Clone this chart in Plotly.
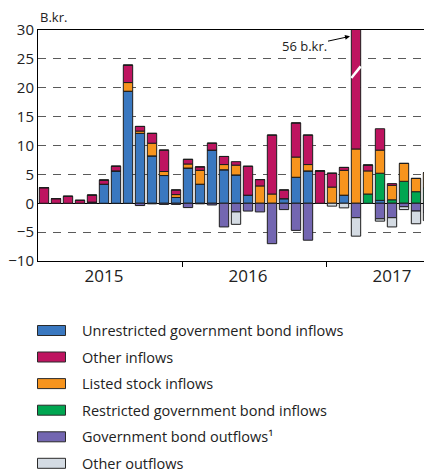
import plotly.graph_objects as go

months = list(range(33))  # Jan 2015 .. Sep 2017
year_labels = ["2015", "2016", "2017"]
year_label_pos = [5, 17, 29]
year_bounds = [11.5, 23.5]

unrestricted = [0, 0, 0, 0, 0.2, 3.3, 5.6, 19.4, 12.1, 8.2, 4.8, 1.0,
                6.1, 3.3, 9.2, 5.8, 4.9, 1.4, 0, 0, 0.8, 4.5, 5.6, 0,
                0, 1.4, 0, 0, 0.5, 0, 0, 0, 0]
restricted = [0]*12 + [0]*12 + [0, 0, 0, 1.6, 4.7, 0.6, 3.8, 2.0, 2.7]
listed = [0, 0, 0, 0, 0, 0, 0, 1.5, 0.4, 2.2, 0.7, 0.5,
          0.7, 2.4, 0, 0.9, 1.7, 0, 3.0, 1.6, 0, 3.5, 1.1, 0,
          2.8, 4.3, 9.4, 4.0, 4.0, 2.5, 3.1, 2.3, 2.6]
other_in = [2.7, 0.8, 1.2, 0.5, 1.2, 0.7, 0.8, 3.0, 0.8, 1.7, 3.7, 0.8,
            0.8, 0.6, 1.2, 1.4, 0.6, 5.0, 1.1, 10.2, 1.5, 5.9, 5.1, 5.6,
            2.4, 0.5, 46.6, 1.0, 3.7, 0.3, 0, 0, 0]
gov_out = [0, 0, 0, 0, 0, 0, 0, 0, -0.4, -0.1, -0.2, -0.2,
           -0.75, -0.1, -0.3, -4.1, -1.5, -1.35, -1.5, -7.0, -1.1, -4.7, -6.4, 0,
           0, 0, -2.5, 0, -2.7, -2.5, -0.6, -1.35, -1.6]
other_out = [0]*12 + [0, 0, 0, 0, -2.15, 0, 0, 0, 0, 0, 0, 0,
                      -0.5, -0.8, -3.2, 0, -0.4, -1.6, -0.5, -2.2, -1.4]

series = [
    ("Unrestricted government bond inflows", unrestricted, "#3a78c0"),
    ("Restricted government bond inflows", restricted, "#00a651"),
    ("Listed stock inflows", listed, "#f7941d"),
    ("Other inflows", other_in, "#be1460"),
    ("Government bond outflows¹", gov_out, "#7366b1"),
    ("Other outflows", other_out, "#d4dbe3"),
]
legend_order = [0, 3, 2, 1, 4, 5]

FONT = "Open Sans"
fig = go.Figure()
for name, vals, col in series:
    fig.add_trace(go.Bar(x=months, y=vals, name=name, width=0.78,
                         marker=dict(color=col, line=dict(color="#1e1e1e", width=1)),
                         showlegend=False))

# page has an 8px body offset; plot area: left 38, top 30, bottom 261 in window px
fig.update_layout(
    width=432, height=472,
    margin=dict(l=30, r=0, t=22, b=219),
    barmode="relative",
    plot_bgcolor="white", paper_bgcolor="white",
    font=dict(family=FONT, color="#222222"),
    showlegend=False,
)
fig.update_xaxes(
    range=[-0.5, 33.0],
    tickmode="array", tickvals=year_label_pos, ticktext=year_labels,
    ticks="", tickfont=dict(size=17, family=FONT),
    showline=True, linecolor="black", linewidth=1, mirror=True,
    showgrid=False, zeroline=False,
    minor=dict(tickmode="array", tickvals=year_bounds, ticks="outside",
               ticklen=5, tickcolor="black", tickwidth=1, showgrid=False),
)
fig.update_yaxes(
    range=[-10, 30], tickmode="array", tickvals=list(range(-10, 31, 5)),
    tickfont=dict(size=15, family=FONT),
    showline=True, linecolor="black", linewidth=1, mirror=False,
    showgrid=True, gridcolor="#5a5a5a", gridwidth=1.2, griddash="8px,7px",
    zeroline=True, zerolinecolor="black", zerolinewidth=1, ticks="",
)

plot_w, plot_h = 402.0, 231.0

# axis unit
fig.add_annotation(xref="paper", yref="paper", x=0, y=(261 - 17) / plot_h,
                   xanchor="left", yanchor="middle", text="B.kr.", showarrow=False,
                   font=dict(size=13, family=FONT))

# off-scale bar label and break marker
big_idx = other_in.index(max(other_in))
fig.add_annotation(x=big_idx - 0.5, y=28.9, xref="x", yref="y",
                   text="56 b.kr.", showarrow=True, arrowhead=2, arrowsize=1,
                   arrowwidth=1, arrowcolor="black", ax=-46, ay=10,
                   font=dict(size=13, family=FONT, color="#222222"))
fig.add_shape(type="line", xref="x", yref="y",
              x0=big_idx - 0.39, x1=big_idx + 0.39, y0=21.7, y1=23.7,
              line=dict(color="white", width=2.5), layer="above")

# custom legend
row_y = [330.5, 357.0, 383.6, 410.2, 436.8, 463.3]
for k, idx in enumerate(legend_order):
    name, _, col = series[idx]
    yc = (261 - row_y[k]) / plot_h
    hh = 5.0 / plot_h
    fig.add_shape(type="rect", xref="paper", yref="paper",
                  x0=(37.5 - 38) / plot_w, x1=(65.5 - 38) / plot_w,
                  y0=yc - hh, y1=yc + hh,
                  fillcolor=col, line=dict(color="#2a2a2a", width=1))
    fig.add_annotation(xref="paper", yref="paper", x=(80 - 38) / plot_w, y=yc,
                       xanchor="left", yanchor="middle", text=name,
                       showarrow=False, font=dict(size=14.5, family=FONT, color="#222222"))

fig.write_html("out.html")
